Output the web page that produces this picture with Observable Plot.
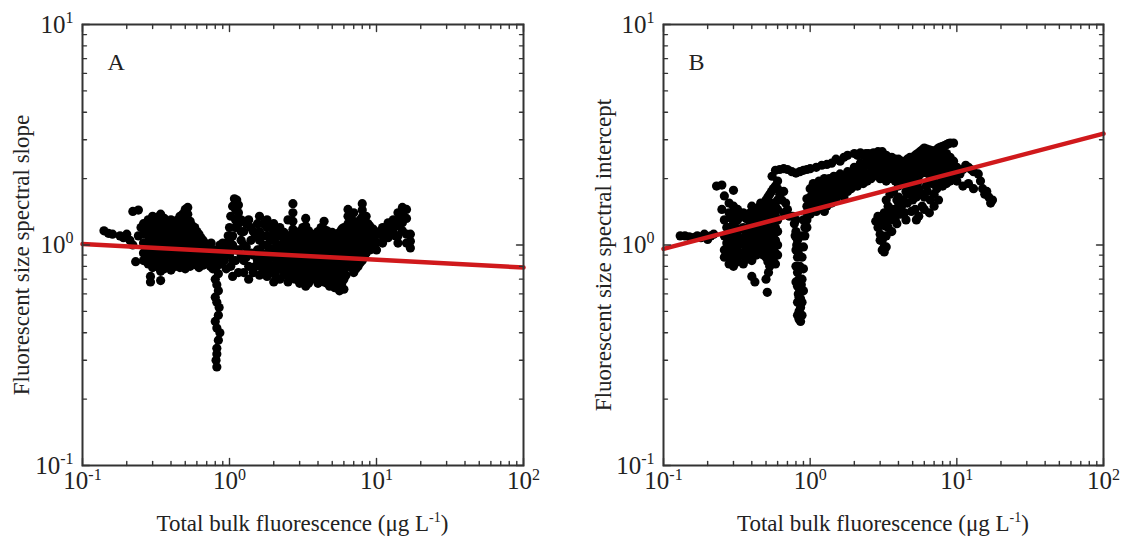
<!DOCTYPE html>
<html><head><meta charset="utf-8">
<script src="https://cdn.jsdelivr.net/npm/d3@7"></script>
<script src="https://cdn.jsdelivr.net/npm/@observablehq/plot@0.6"></script>
<style>
body{margin:0;background:#fff;}
#wrap{display:flex;width:1121px;height:537px;overflow:hidden;}
</style></head><body><div id="wrap"></div>
<script>
const xTicks = [0.1, 1, 10, 100];
const yTicks = [0.1, 1, 10];
const xMinor = [0.2,0.3,0.4,0.5,0.6,0.7,0.8,0.9,2,3,4,5,6,7,8,9,20,30,40,50,60,70,80,90];
const yMinor = [0.2,0.3,0.4,0.5,0.6,0.7,0.8,0.9,2,3,4,5,6,7,8,9];
const fitX = [0.1, 100];
const slopeFitY = [1.01, 0.79];
const interceptFitY = [0.96, 3.2];
const xTitle = "Total bulk fluorescence (μg L";
const slopeTitle = "Fluorescent size spectral slope";
const interceptTitle = "Fluorescent size spectral intercept";

// Panel A: spectral slope vs total bulk fluorescence
const slopeData = [
[0.14,1.16],[0.15,1.13],[0.16,1.12],[0.18,1.10],[0.19,1.08],[0.2,1.12],[0.21,1.05],[0.22,1.42],[0.24,1.44],[0.23,0.84],[0.22,1.0],[0.24,1.1],[0.25,1.2],
[0.29,0.68],[0.29,0.72],[0.34,0.69],
[0.26,1.25],[0.26,1.12],[0.26,1.02],[0.26,0.92],[0.26,0.85],
[0.27,1.18],[0.27,0.97],[0.27,0.88],
[0.28,1.3],[0.28,1.2],[0.28,1.1],[0.28,1.0],[0.28,0.9],[0.28,0.82],
[0.29,1.25],[0.29,1.05],[0.29,0.94],[0.29,0.84],
[0.3,1.35],[0.3,1.25],[0.3,1.15],[0.3,1.05],[0.3,0.95],[0.3,0.87],[0.3,0.79],
[0.31,1.3],[0.31,1.1],[0.31,1.0],[0.31,0.9],[0.31,0.82],
[0.32,1.3],[0.32,1.22],[0.32,1.12],[0.32,1.03],[0.32,0.94],[0.32,0.86],[0.32,0.8],
[0.33,1.34],[0.33,1.16],[0.33,1.06],[0.33,0.96],[0.33,0.86],
[0.34,1.38],[0.34,1.28],[0.34,1.18],[0.34,1.08],[0.34,0.98],[0.34,0.9],[0.34,0.82],[0.34,0.76],
[0.35,1.3],[0.35,1.14],[0.35,1.04],[0.35,0.94],[0.35,0.84],
[0.36,1.32],[0.36,1.22],[0.36,1.12],[0.36,1.02],[0.36,0.94],[0.36,0.86],[0.36,0.78],
[0.37,1.27],[0.37,1.08],[0.37,0.99],[0.37,0.9],[0.37,0.82],
[0.38,1.26],[0.38,1.16],[0.38,1.06],[0.38,0.97],[0.38,0.89],[0.38,0.81],
[0.39,1.22],[0.39,1.12],[0.39,1.02],[0.39,0.94],[0.39,0.85],
[0.4,1.3],[0.4,1.2],[0.4,1.1],[0.4,1.0],[0.4,0.92],[0.4,0.84],[0.4,0.77],
[0.415,1.26],[0.415,1.16],[0.415,1.06],[0.415,0.97],[0.415,0.88],[0.415,0.81],
[0.43,1.24],[0.43,1.14],[0.43,1.04],[0.43,0.95],[0.43,0.87],[0.43,0.8],
[0.445,1.3],[0.445,1.19],[0.445,1.09],[0.445,0.99],[0.445,0.9],[0.445,0.83],
[0.46,1.35],[0.46,1.24],[0.46,1.14],[0.46,1.04],[0.46,0.95],[0.46,0.87],[0.46,0.79],
[0.48,1.38],[0.48,1.27],[0.48,1.17],[0.48,1.07],[0.48,0.97],[0.48,0.89],[0.48,0.81],
[0.5,1.45],[0.5,1.33],[0.5,1.22],[0.5,1.12],[0.5,1.02],[0.5,0.93],[0.5,0.85],[0.5,0.78],
[0.52,1.48],[0.52,1.38],[0.52,1.28],[0.52,1.17],[0.52,1.07],[0.52,0.98],[0.52,0.89],[0.52,0.81],
[0.54,1.28],[0.54,1.16],[0.54,1.06],[0.54,0.96],[0.54,0.88],[0.54,0.8],
[0.56,1.22],[0.56,1.12],[0.56,1.02],[0.56,0.93],[0.56,0.85],
[0.58,1.2],[0.58,1.1],[0.58,1.0],[0.58,0.92],[0.58,0.84],
[0.6,1.15],[0.6,1.05],[0.6,0.96],[0.6,0.88],[0.6,0.81],
[0.62,1.12],[0.62,1.02],[0.62,0.93],[0.62,0.85],[0.62,0.79],
[0.64,1.08],[0.64,0.98],[0.64,0.9],[0.64,0.83],
[0.66,1.05],[0.66,0.96],[0.66,0.88],[0.66,0.81],
[0.68,1.02],[0.68,0.94],[0.68,0.86],
[0.7,1.0],[0.7,0.92],[0.7,0.84],
[0.74,0.93],[0.77,0.78],[0.79,0.82],[0.83,0.9],[0.86,0.85],[0.88,0.95],[0.92,0.85],[0.93,1.0],[0.9,1.02],[0.72,0.88],[0.74,0.8],
[0.75,1.02],[0.78,0.95],[0.8,0.88],[0.82,0.8],[0.76,0.85],[0.86,1.0],[0.9,0.92],[0.88,0.82],[0.84,0.74],[0.8,0.7],[0.82,0.66],[0.84,0.62],[0.8,0.58],[0.82,0.55],[0.85,0.52],[0.84,0.48],[0.8,0.45],[0.82,0.42],[0.86,0.4],[0.84,0.37],[0.82,0.34],[0.82,0.32],[0.81,0.3],[0.82,0.28],
[0.98,1.1],[1.0,1.2],[1.02,1.35],[1.05,1.5],[1.08,1.62],[1.12,1.6],[1.1,1.45],[1.15,1.4],[1.2,1.3],[1.05,1.0],[1.0,0.9],[1.02,0.8],[1.1,0.85],[1.15,0.95],[1.2,1.05],[1.25,1.15],[1.3,1.25],[1.35,1.3],[1.4,1.2],[0.95,0.78],[1.05,0.72],[1.15,0.75],[1.25,0.85],[1.3,0.98],[1.4,1.05],[1.45,0.9],[1.5,1.1],[1.5,0.8],[1.35,0.7],
[1.0,1.05],[1.05,1.1],[1.1,1.2],[1.15,1.25],[1.2,1.15],[1.25,1.0],[1.3,0.88],[1.35,0.8],[1.4,0.92],[1.45,1.15],[1.1,0.95],[1.2,0.9],[1.25,0.75],[1.45,0.75],[1.55,0.95],[1.55,0.85],[1.55,1.25],[1.1,1.3],[1.15,1.52],[1.05,0.85],[0.95,0.9],[0.98,0.98],
[1.6,1.35],[1.6,1.15],[1.6,1.05],[1.6,0.95],[1.6,0.87],[1.6,0.8],[1.6,0.73],
[1.7,1.25],[1.7,1.1],[1.7,1.0],[1.7,0.9],[1.7,0.83],[1.7,0.76],
[1.8,1.3],[1.8,1.2],[1.8,1.1],[1.8,1.0],[1.8,0.92],[1.8,0.85],[1.8,0.78],[1.8,0.72],
[1.9,1.2],[1.9,1.05],[1.9,0.96],[1.9,0.88],[1.9,0.81],[1.9,0.75],
[2.0,1.25],[2.0,1.14],[2.0,1.05],[2.0,0.96],[2.0,0.88],[2.0,0.8],[2.0,0.74],[2.0,0.68],
[2.1,1.18],[2.1,1.09],[2.1,1.0],[2.1,0.92],[2.1,0.84],[2.1,0.77],[2.1,0.71],
[2.2,1.2],[2.2,1.1],[2.2,1.0],[2.2,0.92],[2.2,0.85],[2.2,0.78],[2.2,0.7],
[2.35,1.14],[2.35,1.04],[2.35,0.95],[2.35,0.87],[2.35,0.8],[2.35,0.73],
[2.5,1.3],[2.5,1.08],[2.5,0.98],[2.5,0.9],[2.5,0.82],[2.5,0.75],[2.5,0.68],
[2.65,1.12],[2.65,1.02],[2.65,0.93],[2.65,0.86],[2.65,0.78],[2.65,0.71],
[2.7,1.54],[2.7,1.4],[2.7,1.28],[2.7,1.18],
[2.8,1.08],[2.8,0.98],[2.8,0.9],[2.8,0.82],[2.8,0.75],[2.8,0.7],
[2.9,1.12],[2.9,1.02],[2.9,0.93],[2.9,0.85],[2.9,0.78],[2.9,0.7],
[3.0,1.15],[3.0,1.05],[3.0,0.96],[3.0,0.88],[3.0,0.8],[3.0,0.73],[3.0,0.67],
[3.15,1.2],[3.15,1.08],[3.15,0.98],[3.15,0.9],[3.15,0.82],[3.15,0.74],[3.15,0.68],
[3.3,1.32],[3.3,1.22],[3.3,1.12],[3.3,1.02],[3.3,0.93],[3.3,0.85],[3.3,0.77],[3.3,0.7],[3.3,0.65],
[3.45,1.16],[3.45,1.06],[3.45,0.97],[3.45,0.89],[3.45,0.81],[3.45,0.74],[3.45,0.67],
[3.6,1.1],[3.6,1.0],[3.6,0.92],[3.6,0.84],[3.6,0.76],[3.6,0.7],
[3.8,1.12],[3.8,1.02],[3.8,0.93],[3.8,0.86],[3.8,0.78],[3.8,0.71],
[4.0,1.15],[4.0,1.05],[4.0,0.96],[4.0,0.88],[4.0,0.8],[4.0,0.73],[4.0,0.67],
[4.2,1.2],[4.2,1.1],[4.2,1.0],[4.2,0.92],[4.2,0.84],[4.2,0.77],[4.2,0.7],
[4.4,1.28],[4.4,1.18],[4.4,1.08],[4.4,0.98],[4.4,0.9],[4.4,0.82],[4.4,0.75],[4.4,0.68],
[4.6,1.16],[4.6,1.06],[4.6,0.97],[4.6,0.88],[4.6,0.8],[4.6,0.73],[4.6,0.67],
[4.8,1.12],[4.8,1.02],[4.8,0.93],[4.8,0.85],[4.8,0.78],[4.8,0.71],[4.8,0.65],
[5.0,1.14],[5.0,1.05],[5.0,0.96],[5.0,0.88],[5.0,0.8],[5.0,0.73],[5.0,0.67],
[5.2,1.1],[5.2,1.0],[5.2,0.92],[5.2,0.84],[5.2,0.77],[5.2,0.7],[5.2,0.64],
[5.4,1.12],[5.4,1.02],[5.4,0.93],[5.4,0.85],[5.4,0.78],[5.4,0.71],[5.4,0.64],
[5.6,1.14],[5.6,1.04],[5.6,0.95],[5.6,0.87],[5.6,0.8],[5.6,0.73],[5.6,0.66],[5.6,0.62],
[5.8,1.18],[5.8,1.07],[5.8,0.97],[5.8,0.89],[5.8,0.81],[5.8,0.74],[5.8,0.67],
[6.0,1.2],[6.0,1.1],[6.0,1.0],[6.0,0.92],[6.0,0.84],[6.0,0.77],[6.0,0.7],[6.0,0.63],
[6.2,1.15],[6.2,1.05],[6.2,0.96],[6.2,0.88],[6.2,0.8],[6.2,0.73],
[6.4,1.45],[6.4,1.35],[6.4,1.25],[6.4,1.12],[6.4,1.02],[6.4,0.93],
[6.7,1.3],[6.7,1.15],[6.7,1.04],[6.7,0.95],[6.7,0.86],[6.7,0.79],
[7.0,1.4],[7.0,1.28],[7.0,1.18],[7.0,1.08],[7.0,0.99],[7.0,0.9],[7.0,0.82],[7.0,0.75],
[7.25,1.22],[7.25,1.12],[7.25,1.02],[7.25,0.93],[7.25,0.85],[7.25,0.78],
[7.5,1.25],[7.5,1.15],[7.5,1.05],[7.5,0.96],[7.5,0.88],[7.5,0.8],
[7.75,1.3],[7.75,1.18],[7.75,1.08],[7.75,0.98],[7.75,0.9],[7.75,0.83],
[8.0,1.54],[8.0,1.44],[8.0,1.34],[8.0,1.24],[8.0,1.1],[8.0,1.0],[8.0,0.92],[8.0,0.85],
[8.25,1.28],[8.25,1.15],[8.25,1.05],[8.25,0.96],[8.25,0.88],
[8.5,1.35],[8.5,1.2],[8.5,1.1],[8.5,1.0],[8.5,0.92],
[8.75,1.25],[8.75,1.12],[8.75,1.03],[8.75,0.95],
[9.0,1.22],[9.0,1.12],[9.0,1.03],[9.0,0.95],
[9.5,1.18],[9.5,1.08],[9.5,1.0],
[10,1.12],[10,1.03],[10,0.95],
[10.5,1.15],[11.5,1.2],[12.5,1.22],[13.5,1.25],[14.5,1.3],[12.5,1.12],[13.5,1.1],
[11,1.2],[11,1.1],[11,1.02],
[12,1.26],[12,1.16],[12,1.08],
[13,1.3],[13,1.14],
[14,1.4],[14,1.22],[14,1.1],[14,1.02],
[15,1.48],[15,1.38],[15,1.26],[15,1.16],
[16,1.45],[16,1.32],[16,1.12],[16,1.02],
[17,1.12],[17,1.04],[17,0.97]
];

// Panel B: spectral intercept vs total bulk fluorescence
const interceptData = [
[0.13,1.1],[0.14,1.1],[0.15,1.09],[0.16,1.08],[0.17,1.1],[0.18,1.08],[0.19,1.12],[0.2,1.06],[0.21,1.1],[0.22,1.12],
[0.23,1.85],[0.25,1.87],[0.26,1.67],[0.3,1.77],[0.25,1.45],[0.28,1.55],[0.3,1.5],
[0.26,1.3],[0.26,1.1],[0.26,0.95],[0.26,0.88],
[0.27,1.2],[0.27,1.02],[0.27,0.9],
[0.28,1.4],[0.28,1.2],[0.28,1.05],[0.28,0.9],[0.28,0.82],
[0.29,1.32],[0.29,1.12],[0.29,0.96],[0.29,0.85],
[0.3,1.35],[0.3,1.25],[0.3,1.15],[0.3,1.0],[0.3,0.9],[0.3,0.8],
[0.31,1.4],[0.31,1.2],[0.31,1.05],[0.31,0.92],[0.31,0.83],
[0.32,1.45],[0.32,1.3],[0.32,1.1],[0.32,0.98],[0.32,0.85],
[0.335,1.35],[0.335,1.18],[0.335,1.02],[0.335,0.9],
[0.35,1.4],[0.35,1.2],[0.35,1.05],[0.35,0.92],[0.35,0.82],
[0.365,1.32],[0.365,1.12],[0.365,0.97],[0.365,0.86],
[0.38,1.3],[0.38,1.15],[0.38,1.0],[0.38,0.88],
[0.39,1.4],[0.39,1.22],[0.39,1.06],[0.39,0.93],
[0.4,1.5],[0.4,1.35],[0.4,1.2],[0.4,1.1],[0.4,0.95],[0.4,0.85],
[0.415,1.3],[0.415,1.15],[0.415,1.02],[0.415,0.9],
[0.43,1.4],[0.43,1.25],[0.43,1.12],[0.43,1.0],[0.43,0.9],
[0.445,1.48],[0.445,1.35],[0.445,1.2],[0.445,1.08],[0.445,0.95],
[0.46,1.55],[0.46,1.45],[0.46,1.3],[0.46,1.15],[0.46,1.05],[0.46,0.95],
[0.48,1.5],[0.48,1.38],[0.48,1.25],[0.48,1.12],[0.48,1.0],[0.48,0.9],
[0.5,1.6],[0.5,1.45],[0.5,1.3],[0.5,1.2],[0.5,1.08],[0.5,0.98],[0.5,0.88],
[0.515,1.65],[0.515,1.4],[0.515,1.25],[0.515,1.1],[0.515,0.95],[0.515,0.84],
[0.53,1.7],[0.53,1.5],[0.53,1.35],[0.53,1.15],[0.53,1.0],[0.53,0.9],[0.53,0.8],
[0.545,1.75],[0.545,1.45],[0.545,1.3],[0.545,1.18],[0.545,1.02],[0.545,0.88],
[0.56,1.8],[0.56,1.55],[0.56,1.4],[0.56,1.25],[0.56,1.1],[0.56,0.95],[0.56,0.85],
[0.58,1.85],[0.58,1.5],[0.58,1.35],[0.58,1.2],[0.58,1.05],[0.58,0.92],[0.58,0.82],
[0.6,1.95],[0.6,1.6],[0.6,1.45],[0.6,1.3],[0.6,1.15],[0.6,1.0],[0.6,0.9],
[0.4,0.72],[0.42,0.68],[0.51,0.61],[0.52,0.75],[0.5,0.7],
[0.55,2.05],[0.58,2.18],[0.62,2.2],[0.66,2.22],[0.7,2.2],[0.75,2.15],[0.8,2.12],[0.85,2.15],[0.9,2.18],[0.95,2.2],[1.0,2.22],[1.1,2.25],[1.2,2.3],[1.3,2.32],[1.4,2.35],[1.5,2.45],[1.6,2.4],[1.7,2.5],[1.8,2.55],[2.0,2.6],[2.2,2.62],[2.4,2.6],[2.6,2.58],
[0.6,1.8],[0.62,1.7],[0.64,1.6],[0.66,1.75],[0.68,1.55],[0.7,1.45],[0.66,1.4],[0.72,1.35],
[0.76,1.35],[0.78,1.25],[0.8,1.3],[0.8,1.15],[0.82,1.05],[0.8,0.95],[0.82,0.88],[0.8,0.8],[0.82,0.75],[0.84,0.7],[0.82,0.65],[0.85,0.62],[0.84,0.58],[0.82,0.55],[0.86,0.52],[0.84,0.5],[0.82,0.48],[0.84,0.46],[0.86,0.45],[0.88,0.48],[0.88,0.55],[0.9,0.62],[0.88,0.7],[0.9,0.78],[0.88,0.88],[0.9,0.98],[0.88,1.1],[0.92,1.2],[0.9,1.3],
[0.79,1.1],[0.81,1.0],[0.83,0.92],[0.85,0.8],[0.87,0.66],[0.83,0.6],[0.86,0.57],[0.8,0.68],[0.92,1.1],[0.93,1.3],[0.95,1.2],
[0.95,1.5],[0.95,1.4],[0.95,1.62],[0.95,1.3],
[1.0,1.8],[1.0,1.65],[1.0,1.5],[1.0,1.38],
[1.05,1.9],[1.05,1.72],[1.05,1.58],[1.05,1.45],
[1.1,1.85],[1.1,1.7],[1.1,1.55],[1.1,1.42],
[1.15,1.95],[1.15,1.8],[1.15,1.65],[1.15,1.5],
[1.2,1.9],[1.2,1.75],[1.2,1.6],[1.2,1.48],
[1.25,2.0],[1.25,1.85],[1.25,1.7],[1.25,1.55],[1.25,1.42],
[1.3,1.95],[1.3,1.8],[1.3,1.62],[1.3,1.5],
[1.35,2.0],[1.35,1.88],[1.35,1.72],[1.35,1.58],
[1.4,1.85],[1.4,1.7],[1.4,1.55],
[1.45,2.05],[1.45,1.9],[1.45,1.78],[1.45,1.65],
[1.5,2.0],[1.5,1.85],[1.5,1.72],[1.5,1.6],
[1.6,2.1],[1.6,1.95],[1.6,1.82],[1.6,1.7],
[1.7,2.05],[1.7,1.9],[1.7,1.75],[1.7,1.65],
[1.8,2.15],[1.8,2.0],[1.8,1.88],[1.8,1.75],
[1.9,2.1],[1.9,1.95],[1.9,1.8],
[2.0,2.25],[2.0,2.1],[2.0,1.95],[2.0,1.85],
[2.1,2.2],[2.1,2.0],[2.1,1.85],[2.1,2.55],
[2.2,2.35],[2.2,2.15],[2.2,2.0],
[2.3,2.25],[2.3,2.05],[2.3,1.9],[2.3,2.55],
[2.45,2.45],[2.45,2.3],[2.45,2.1],[2.45,1.95],
[2.5,2.6],[2.6,2.35],[2.6,2.15],[2.6,2.0],
[2.7,2.5],[2.7,2.25],[2.7,2.05],[2.7,2.62],
[2.8,2.5],[2.8,2.3],[2.8,2.1],
[2.9,2.65],[3.1,2.65],
[3.0,2.6],[3.0,2.45],[3.0,2.3],[3.0,2.15],[3.0,2.0],
[3.15,2.55],[3.15,2.35],[3.15,2.18],[3.15,2.02],
[3.3,2.55],[3.3,2.4],[3.3,2.25],[3.3,2.1],[3.3,1.95],
[3.45,2.5],[3.45,2.32],[3.45,2.15],[3.45,2.0],
[3.6,2.5],[3.6,2.35],[3.6,2.2],[3.6,2.05],
[3.8,2.45],[3.8,2.28],[3.8,2.12],[3.8,1.95],
[4.0,2.45],[4.0,2.3],[4.0,2.15],[4.0,2.0],[4.0,1.85],
[4.2,2.4],[4.2,2.25],[4.2,2.08],[4.2,1.92],
[4.4,2.35],[4.4,2.2],[4.4,2.05],[4.4,1.9],
[4.6,2.45],[4.6,2.28],[4.6,2.1],[4.6,1.95],
[4.8,2.5],[4.8,2.3],[4.8,2.15],[4.8,1.95],
[5.0,2.5],[5.0,2.35],[5.0,2.18],[5.0,2.0],[5.0,1.88],
[5.2,2.55],[5.2,2.4],[5.2,2.2],[5.2,2.05],
[5.4,2.6],[5.4,2.42],[5.4,2.25],[5.4,2.08],
[5.6,2.65],[5.6,2.45],[5.6,2.25],[5.6,2.1],
[5.8,2.7],[5.8,2.5],[5.8,2.3],[5.8,2.12],
[6.0,2.75],[6.0,2.55],[6.0,2.35],[6.0,2.15],
[6.25,2.72],[6.25,2.52],[6.25,2.32],[6.25,2.12],
[6.5,2.7],[6.5,2.5],[6.5,2.3],[6.5,2.1],
[6.75,2.68],[6.75,2.48],[6.75,2.28],[6.75,2.08],
[7.0,2.65],[7.0,2.45],[7.0,2.25],[7.0,2.05],
[7.25,2.7],[7.25,2.5],[7.25,2.3],[7.25,2.1],
[7.5,2.75],[7.5,2.5],[7.5,2.3],[7.5,2.1],
[7.75,2.78],[7.75,2.55],[7.75,2.35],[7.75,2.15],
[8.0,2.8],[8.0,2.6],[8.0,2.4],[8.0,2.2],[8.0,2.0],
[8.25,2.82],[8.25,2.5],[8.25,2.28],[8.25,2.05],
[8.5,2.85],[8.5,2.6],[8.5,2.35],[8.5,2.1],
[8.75,2.88],[8.75,2.45],[8.75,2.2],
[9.0,2.9],[9.0,2.5],[9.0,2.25],[9.0,1.95],
[9.5,2.9],[9.5,2.4],[9.5,2.1],
[2.9,1.35],[3.0,1.25],[3.0,1.12],[3.1,1.05],[3.2,0.98],[3.2,0.93],[3.3,1.1],[3.4,1.2],[3.5,1.3],[3.6,1.15],[3.8,1.3],[3.2,1.4],[3.4,1.5],[3.6,1.45],
[2.9,1.2],[3.0,1.05],[3.1,0.95],[3.3,0.98],[3.1,1.3],[2.8,1.28],[3.25,1.22],[3.35,1.35],
[4.0,1.65],[4.2,1.5],[4.4,1.4],[4.6,1.55],[4.8,1.7],[5.0,1.6],[5.2,1.45],[5.5,1.35],[5.8,1.5],[6.0,1.65],[6.3,1.75],[6.6,1.6],[7.0,1.7],[7.3,1.8],[5.5,1.8],[4.5,1.75],[3.9,1.6],[3.7,1.75],[3.5,1.7],[3.3,1.6],
[3.8,1.45],[4.0,1.5],[4.3,1.6],[4.6,1.7],[5.0,1.75],[5.3,1.65],[5.7,1.7],[6.2,1.85],[6.8,1.9],[7.5,1.9],[8.0,1.85],[8.5,1.9],[4.8,1.85],[5.5,1.95],[6.5,1.95],
[3.7,1.35],[3.9,1.25],[4.1,1.38],[4.5,1.3],[4.9,1.42],[5.3,1.3],[6.0,1.45],[6.5,1.4],[7.0,1.5],[7.5,1.6],
[10,2.25],[10.5,2.1],[11,2.2],[11.5,2.3],[12,2.25],[12.5,2.2],[13,2.15],[14,2.1],[14.5,1.95],[15,1.8],[15.5,1.7],[16,1.75],[16.5,1.65],[17,1.55],[17.5,1.6],[10,1.95],[11,1.85],[12,1.9],[13,1.8]
];

const NS = "http://www.w3.org/2000/svg";
const tickLine = {draw(ctx, l) { ctx.moveTo(0, 0); ctx.lineTo(0, -l); }};
const tickStyle = {anchor: "start", shape: tickLine, stroke: "#333", strokeWidth: 1.4};
const fmt = d => "10^" + Math.round(Math.log10(d));

function edgeTicks(len) {
  const xs = xMinor.concat(xTicks).filter(d => len > 5 ? xTicks.includes(d) : !xTicks.includes(d));
  const ys = yMinor.concat(yTicks).filter(d => len > 5 ? yTicks.includes(d) : !yTicks.includes(d));
  return [
    Plot.vector(xs, {x: d => d, y: () => 0.1, length: len, rotate: 0, ...tickStyle}),
    Plot.vector(xs, {x: d => d, y: () => 10, length: len, rotate: 180, ...tickStyle}),
    Plot.vector(ys, {x: () => 0.1, y: d => d, length: len, rotate: 90, ...tickStyle}),
    Plot.vector(ys, {x: () => 100, y: d => d, length: len, rotate: -90, ...tickStyle})
  ];
}

function supify(svg) {
  svg.querySelectorAll('g[aria-label$="tick label"] text').forEach(t => {
    const parts = t.textContent.split("^");
    if (parts.length !== 2) return;
    t.style.fontSize = "25px";
    t.textContent = parts[0];
    const s = document.createElementNS(NS, "tspan");
    s.setAttribute("dy", "-0.6em");
    s.style.fontSize = "16px";
    s.textContent = parts[1];
    t.appendChild(s);
  });
}

function panel(data, fitY, yTitle, letter, w, ml, mr, yTitleX) {
  const svg = Plot.plot({
    width: w, height: 537,
    marginLeft: ml, marginRight: mr, marginTop: 24, marginBottom: 72,
    style: {fontFamily: '"Liberation Serif", "Times New Roman", serif', fontSize: "22px", color: "#222", background: "#fff", overflow: "visible"},
    x: {type: "log", domain: [0.1, 100]},
    y: {type: "log", domain: [0.1, 10]},
    marks: [
      Plot.dot(data, {x: d => d[0], y: d => d[1], r: 4.6, fill: "#000"}),
      Plot.line(fitX.map((x, i) => ({x, y: fitY[i]})), {x: "x", y: "y", stroke: "#d0191c", strokeWidth: 4.5}),
      ...edgeTicks(7),
      ...edgeTicks(4),
      Plot.frame({stroke: "#333", strokeWidth: 2}),
      Plot.axisX(xTicks, {tickSize: 0, tickPadding: 6, tickFormat: fmt, label: null, fill: "#222"}),
      Plot.axisY(yTicks, {tickSize: 0, tickPadding: 9, tickFormat: fmt, label: null, fill: "#222"}),
      Plot.text([letter], {frameAnchor: "top-left", dx: 25, dy: 28, text: d => d, textAnchor: "start", fontSize: 24, fill: "#222"})
    ]
  });
  supify(svg);
  const g = d3.select(svg);
  const xt = g.append("text")
    .attr("x", (ml + w - mr) / 2).attr("y", 531)
    .attr("text-anchor", "middle").attr("font-size", 23).attr("fill", "#222");
  xt.append("tspan").text(xTitle);
  xt.append("tspan").attr("dy", -9).attr("font-size", 14).text("-1");
  xt.append("tspan").attr("dy", 9).text(")");
  g.append("text")
    .attr("transform", `translate(${yTitleX},255) rotate(-90)`)
    .attr("text-anchor", "middle").attr("font-size", 23).attr("fill", "#222")
    .text(yTitle);
  return svg;
}

const wrap = document.getElementById("wrap");
wrap.appendChild(panel(slopeData, slopeFitY, slopeTitle, "A", 580, 82, 57, 29));
wrap.appendChild(panel(interceptData, interceptFitY, interceptTitle, "B", 541, 83, 18, 31));
</script>
</body></html>
